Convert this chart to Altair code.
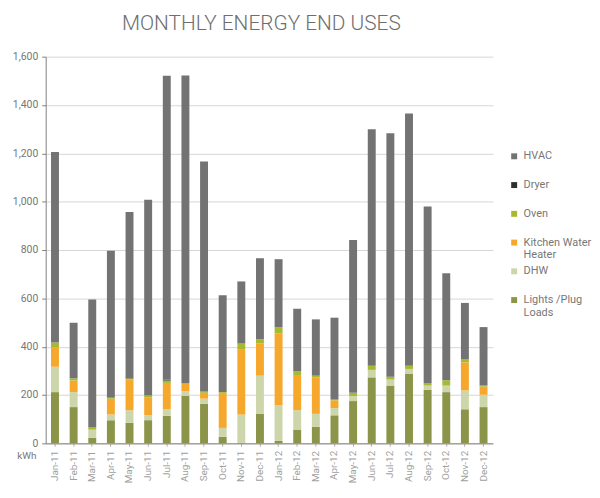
import altair as alt
import pandas as pd

months = ["Jan-11", "Feb-11", "Mar-11", "Apr-11", "May-11", "Jun-11",
          "Jul-11", "Aug-11", "Sep-11", "Oct-11", "Nov-11", "Dec-11",
          "Jan-12", "Feb-12", "Mar-12", "Apr-12", "May-12", "Jun-12",
          "Jul-12", "Aug-12", "Sep-12", "Oct-12", "Nov-12", "Dec-12"]

lights = [212, 150, 23, 96, 85, 96, 114, 196, 164, 27, 3, 123,
          10, 57, 68, 116, 175, 273, 239, 287, 222, 212, 141, 150]
dhw = [105, 62, 32, 23, 52, 20, 27, 20, 21, 37, 116, 157,
       147, 80, 54, 30, 21, 31, 25, 21, 17, 27, 78, 51]
kitchen_wh = [80, 48, 3, 66, 127, 75, 109, 30, 24, 141, 271, 134,
              298, 146, 150, 32, 0, 0, 0, 0, 0, 0, 116, 34]
oven = [20, 9, 10, 4, 5, 7, 10, 4, 6, 7, 23, 17,
        26, 15, 8, 3, 13, 17, 12, 13, 11, 22, 14, 4]
dryer = [0, 0, 0, 0, 4, 0, 3, 0, 0, 0, 0, 0,
         0, 0, 0, 0, 0, 0, 0, 0, 0, 0, 0, 0]
hvac = [789, 230, 527, 608, 684, 810, 1258, 1272, 951, 401, 257, 335,
        281, 259, 233, 339, 632, 979, 1007, 1044, 730, 443, 232, 242]

stack_names = ["Lights /Plug Loads", "DHW", "Kitchen Water Heater", "Oven", "Dryer", "HVAC"]
stack_values = [lights, dhw, kitchen_wh, oven, dryer, hvac]
legend_order = ["HVAC", "Dryer", "Oven", "Kitchen Water Heater", "DHW", "Lights /Plug Loads"]
legend_colors = ["#737373", "#2e2e2e", "#a9b92f", "#f6a82c", "#cdd6aa", "#8b9448"]
y_ticks = [0, 200, 400, 600, 800, 1000, 1200, 1400, 1600]

rows = []
for i, m in enumerate(months):
    for k, (name, vals) in enumerate(zip(stack_names, stack_values)):
        rows.append({"month": m, "series": name, "value": vals[i], "order": k})
df = pd.DataFrame(rows)

W, H = 451, 390

label_expr = ("datum.label == 'Kitchen Water Heater' ? ['Kitchen Water', 'Heater'] : "
              "datum.label == 'Lights /Plug Loads' ? ['Lights /Plug', 'Loads'] : [datum.label, '']")

bars = alt.Chart(df).mark_bar(size=8).encode(
    x=alt.X("month:N", sort=months,
            scale=alt.Scale(paddingInner=0, paddingOuter=0),
            axis=alt.Axis(title=None, labelAngle=-90, labelFontSize=10, labelColor="#a0a0a0",
                          labelFont="Roboto", domainColor="#808080", tickColor="#b0b0b0",
                          tickSize=3, labelPadding=4)),
    y=alt.Y("value:Q", stack="zero",
            scale=alt.Scale(domain=[0, 1600], nice=False),
            axis=alt.Axis(title=None, values=y_ticks, format=",d", labelFontSize=10.5,
                          labelColor="#777777", labelFont="Roboto", domainColor="#808080",
                          tickColor="#808080", tickSize=4, labelPadding=4,
                          gridColor="#d6d6d6")),
    color=alt.Color("series:N",
                    scale=alt.Scale(domain=legend_order, range=legend_colors),
                    legend=alt.Legend(title=None, orient="none", legendX=467, legendY=95,
                                      symbolType="square", symbolSize=36, symbolStrokeWidth=0,
                                      labelFontSize=11, labelColor="#777777", labelFont="Roboto",
                                      labelExpr=label_expr, rowPadding=4, labelOffset=4)),
    order=alt.Order("order:Q", sort="ascending"),
)

kwh = alt.Chart(pd.DataFrame({"t": ["kWh"]})).mark_text(
    fontSize=10, color="#777777", font="Roboto", align="center", baseline="middle"
).encode(text="t:N", x=alt.value(-19), y=alt.value(H + 13))

chart = alt.layer(bars, kwh).properties(
    width=W, height=H,
    title=alt.Title("MONTHLY ENERGY END USES", fontSize=21, font="Roboto",
                    fontWeight=300, color="#6e6e6e", anchor="middle", offset=18, dx=-8),
    autosize=alt.AutoSizeParams(type="none"),
    padding={"left": 38, "top": 47, "right": 100, "bottom": 50},
).configure_view(stroke=None)

chart.save("out.html", embed_options={"renderer": "svg", "actions": False})
